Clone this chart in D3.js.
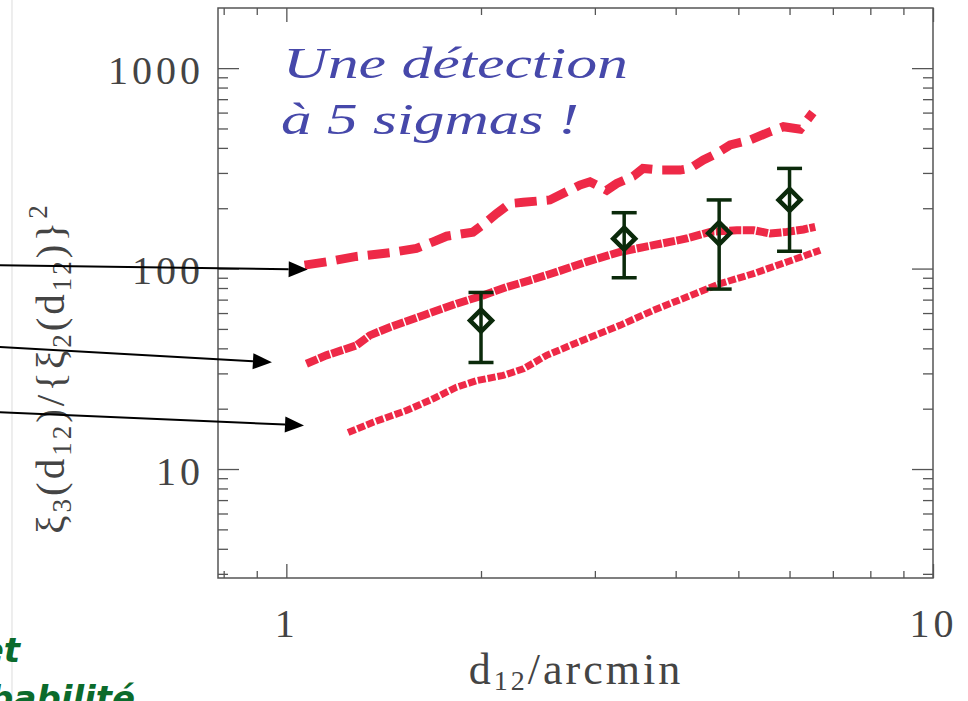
<!DOCTYPE html>
<html>
<head>
<meta charset="utf-8">
<script src="https://cdn.jsdelivr.net/npm/d3@7"></script>
<style>
  html, body { margin: 0; padding: 0; background: #fff; overflow: hidden; }
  svg { display: block; }
</style>
</head>
<body>
<svg id="chart"></svg>
<script>
const width = 968
const height = 701
const frame = {left: 218, right: 933, top: 8, bottom: 578}

// data
const upperX = [1.067, 1.153, 1.284, 1.445, 1.589, 1.686, 1.769, 1.943, 2.04, 2.114, 2.216, 2.325, 2.556, 2.713, 2.844, 2.948, 3.129, 3.243, 3.44, 3.561, 3.784, 4.063, 4.21, 4.415, 4.631, 4.857, 5.215, 5.601, 5.871, 6.232, 6.521]
const upperY = [104, 108, 115, 120, 126, 136, 145, 152, 171, 188, 211, 214, 220, 242, 261, 271, 246, 266, 289, 316, 310, 310, 316, 348, 376, 414, 438, 482, 510, 496, 600]

const middleX = [1.074, 1.153, 1.284, 1.346, 1.445, 1.627, 1.833, 2.016, 2.191, 2.38, 2.586, 2.913, 3.281, 3.694, 4.161, 4.522, 4.974, 5.277, 5.6, 5.943, 6.305, 6.575]
const middleY = [33.5, 36.9, 41.4, 46.4, 51, 58.4, 66.8, 73.5, 80.9, 87.4, 95, 108, 121.1, 130.8, 141.3, 152.4, 155.4, 155.4, 149.6, 152.4, 156.7, 161.4]

const lowerX = [1.246, 1.362, 1.534, 1.686, 1.833, 1.968, 2.164, 2.325, 2.526, 2.913, 3.281, 3.694, 4.161, 4.687, 5.277, 5.943, 6.693]
const lowerY = [15.2, 17.1, 19.6, 22.4, 25.6, 27.6, 29.3, 31.6, 36.9, 44.7, 52.1, 61.9, 72.1, 84.1, 94.4, 107.9, 123.5]

const pointX = [2.0, 3.33, 4.67, 6.0]
const pointY = [55, 141, 150, 220]
const pointLow = [34, 90, 79, 122]
const pointHigh = [76, 190, 220, 316]

const xMajor = [1, 10]
const xMinor = [0.8, 0.9, 2, 3, 4, 5, 6, 7, 8, 9]
const yMajor = [10, 100, 1000]
const yMinor = [3, 4, 5, 6, 7, 8, 9, 20, 30, 40, 50, 60, 70, 80, 90, 200, 300, 400, 500, 600, 700, 800, 900]

// arrows coming from the left side of the slide (data coordinates)
const arrowFromX = [0.36, 0.36, 0.36]
const arrowFromY = [104, 40.6, 19.2]
const arrowToX = [1.079, 0.95, 1.065]
const arrowToY = [99, 34.1, 16.5]

const redColor = '#ee2947'
const serif = '"Liberation Serif", "DejaVu Serif", serif'

const x = d3.scaleLog().domain([0.784, 10]).range([frame.left, frame.right])
const y = d3.scaleLog().domain([2.86, 1995]).range([frame.bottom, frame.top])

const svg = d3.select('#chart').attr('width', width).attr('height', height)

// faint slide border line on the left
svg.append('line').attr('x1', 12).attr('x2', 12).attr('y1', 0).attr('y2', height)
  .attr('stroke', '#e2e2e2').attr('stroke-width', 1.2)

// axes, ticks pointing inside
function styleAxis(g) {
  g.select('.domain').remove()
  g.selectAll('.tick line').attr('stroke', '#555').attr('stroke-width', 1.3)
  g.selectAll('.tick text').attr('fill', '#444').attr('font-family', serif)
    .attr('font-size', 40).attr('letter-spacing', 4)
}

svg.append('g').attr('transform', `translate(0,${frame.bottom})`)
  .call(d3.axisBottom(x).tickValues(xMajor).tickSize(-14).tickPadding(31).tickFormat(d3.format('d')))
  .call(styleAxis)
svg.append('g').attr('transform', `translate(0,${frame.bottom})`)
  .call(d3.axisBottom(x).tickValues(xMinor).tickSize(-7).tickFormat(''))
  .call(styleAxis)
svg.append('g').attr('transform', `translate(0,${frame.top})`)
  .call(d3.axisTop(x).tickValues(xMajor).tickSize(-14).tickFormat(''))
  .call(styleAxis)
svg.append('g').attr('transform', `translate(0,${frame.top})`)
  .call(d3.axisTop(x).tickValues(xMinor).tickSize(-7).tickFormat(''))
  .call(styleAxis)

svg.append('g').attr('transform', `translate(${frame.left},0)`)
  .call(d3.axisLeft(y).tickValues(yMajor).tickSize(-21).tickPadding(14).tickFormat(d3.format('d')))
  .call(styleAxis)
svg.append('g').attr('transform', `translate(${frame.left},0)`)
  .call(d3.axisLeft(y).tickValues(yMinor).tickSize(-10).tickFormat(''))
  .call(styleAxis)
svg.append('g').attr('transform', `translate(${frame.right},0)`)
  .call(d3.axisRight(y).tickValues(yMajor).tickSize(-21).tickFormat(''))
  .call(styleAxis)
svg.append('g').attr('transform', `translate(${frame.right},0)`)
  .call(d3.axisRight(y).tickValues(yMinor).tickSize(-10).tickFormat(''))
  .call(styleAxis)

svg.selectAll('.tick text').attr('dy', function () {
  return d3.select(this).attr('dy') === '0.71em' ? '0.71em' : '0.38em'
})

svg.append('rect').attr('x', frame.left).attr('y', frame.top)
  .attr('width', frame.right - frame.left).attr('height', frame.bottom - frame.top)
  .attr('fill', 'none').attr('stroke', '#555').attr('stroke-width', 1.5)

// axis titles
const xTitle = svg.append('text').attr('x', 576).attr('y', 684).attr('text-anchor', 'middle')
  .attr('font-family', serif).attr('font-size', 44).attr('fill', '#444').attr('letter-spacing', 3)
xTitle.append('tspan').text('d')
xTitle.append('tspan').attr('font-size', 28).attr('dy', 6).text('12')
xTitle.append('tspan').attr('dy', -6).text('/arcmin')

const yTitle = svg.append('text').attr('transform', 'translate(64,368) rotate(-90)')
  .attr('text-anchor', 'middle').attr('font-family', serif).attr('font-size', 41)
  .attr('fill', '#444').attr('letter-spacing', 3)
yTitle.append('tspan').text('ξ')
yTitle.append('tspan').attr('font-size', 27).attr('dy', 7).text('3')
yTitle.append('tspan').attr('dy', -7).text('(d')
yTitle.append('tspan').attr('font-size', 27).attr('dy', 7).text('12')
yTitle.append('tspan').attr('dy', -7).text(')/{ξ')
yTitle.append('tspan').attr('font-size', 27).attr('dy', 7).text('2')
yTitle.append('tspan').attr('dy', -7).text('(d')
yTitle.append('tspan').attr('font-size', 27).attr('dy', 7).text('12')
yTitle.append('tspan').attr('dy', -7).text(')}')
yTitle.append('tspan').attr('font-size', 27).attr('dy', -17).text('2')

// model curves
const line = d3.line().x(d => x(d[0])).y(d => y(d[1]))

svg.append('path').datum(d3.zip(upperX, upperY)).attr('d', line)
  .attr('fill', 'none').attr('stroke', redColor).attr('stroke-width', 9)
  .attr('stroke-dasharray', '22 10')

svg.append('path').datum(d3.zip(middleX, middleY)).attr('d', line)
  .attr('fill', 'none').attr('stroke', redColor).attr('stroke-width', 8)
  .attr('stroke-dasharray', '12 1.5')

svg.append('path').datum(d3.zip(lowerX, lowerY)).attr('d', line)
  .attr('fill', 'none').attr('stroke', redColor).attr('stroke-width', 7)
  .attr('stroke-dasharray', '8 2')

// measured points with error bars
const pts = d3.range(pointX.length).map(i => ({x: pointX[i], y: pointY[i], lo: pointLow[i], hi: pointHigh[i]}))
const pg = svg.selectAll('.pt').data(pts).enter().append('g').attr('class', 'pt')
  .attr('stroke', '#0b2a0b').attr('fill', 'none')
pg.append('line').attr('x1', d => x(d.x)).attr('x2', d => x(d.x))
  .attr('y1', d => y(d.lo)).attr('y2', d => y(d.hi)).attr('stroke-width', 3.5)
pg.append('line').attr('x1', d => x(d.x) - 12.5).attr('x2', d => x(d.x) + 12.5)
  .attr('y1', d => y(d.hi)).attr('y2', d => y(d.hi)).attr('stroke-width', 3.5)
pg.append('line').attr('x1', d => x(d.x) - 12.5).attr('x2', d => x(d.x) + 12.5)
  .attr('y1', d => y(d.lo)).attr('y2', d => y(d.lo)).attr('stroke-width', 3.5)
pg.append('path').attr('d', d => {
  const cx = x(d.x), cy = y(d.y), r = 11
  return `M${cx},${cy - r}L${cx + r},${cy}L${cx},${cy + r}L${cx - r},${cy}Z`
}).attr('stroke-width', 4.5)

// blue annotation
const blue = svg.append('g').attr('fill', '#4648aa').attr('font-family', serif)
  .attr('font-style', 'italic').attr('font-size', 44)
blue.append('text').attr('x', 283).attr('y', 78).attr('textLength', 345)
  .attr('lengthAdjust', 'spacingAndGlyphs').text('Une détection')
blue.append('text').attr('x', 281).attr('y', 134).attr('textLength', 298)
  .attr('lengthAdjust', 'spacingAndGlyphs').text('à 5 sigmas !')

// arrows
const arrows = d3.range(arrowFromX.length).map(i => ({x1: arrowFromX[i], y1: arrowFromY[i], x2: arrowToX[i], y2: arrowToY[i]}))
const ag = svg.selectAll('.arrow').data(arrows).enter().append('g').attr('class', 'arrow')
ag.each(function (d) {
  const sx = x(d.x1), sy = y(d.y1), tx = x(d.x2), ty = y(d.y2)
  const a = Math.atan2(ty - sy, tx - sx)
  const len = 19, half = 8
  const bx = tx - len * Math.cos(a), by = ty - len * Math.sin(a)
  const g = d3.select(this)
  g.append('line').attr('x1', sx).attr('y1', sy).attr('x2', bx).attr('y2', by)
    .attr('stroke', '#000').attr('stroke-width', 2)
  g.append('path').attr('d', `M${tx},${ty}L${bx - half * Math.sin(a)},${by + half * Math.cos(a)}L${bx + half * Math.sin(a)},${by - half * Math.cos(a)}Z`)
    .attr('fill', '#000')
})

// green text cut off at the slide edge, as in the source slide
const green = svg.append('g').attr('fill', '#0b6b2c').attr('font-family', '"DejaVu Sans", sans-serif')
  .attr('font-weight', 'bold').attr('font-style', 'italic').attr('font-size', 34)
green.append('text').attr('x', 20).attr('y', 662).attr('text-anchor', 'end').text('et')
green.append('text').attr('x', 135).attr('y', 710).attr('text-anchor', 'end').text('probabilité')
</script>
</body>
</html>
